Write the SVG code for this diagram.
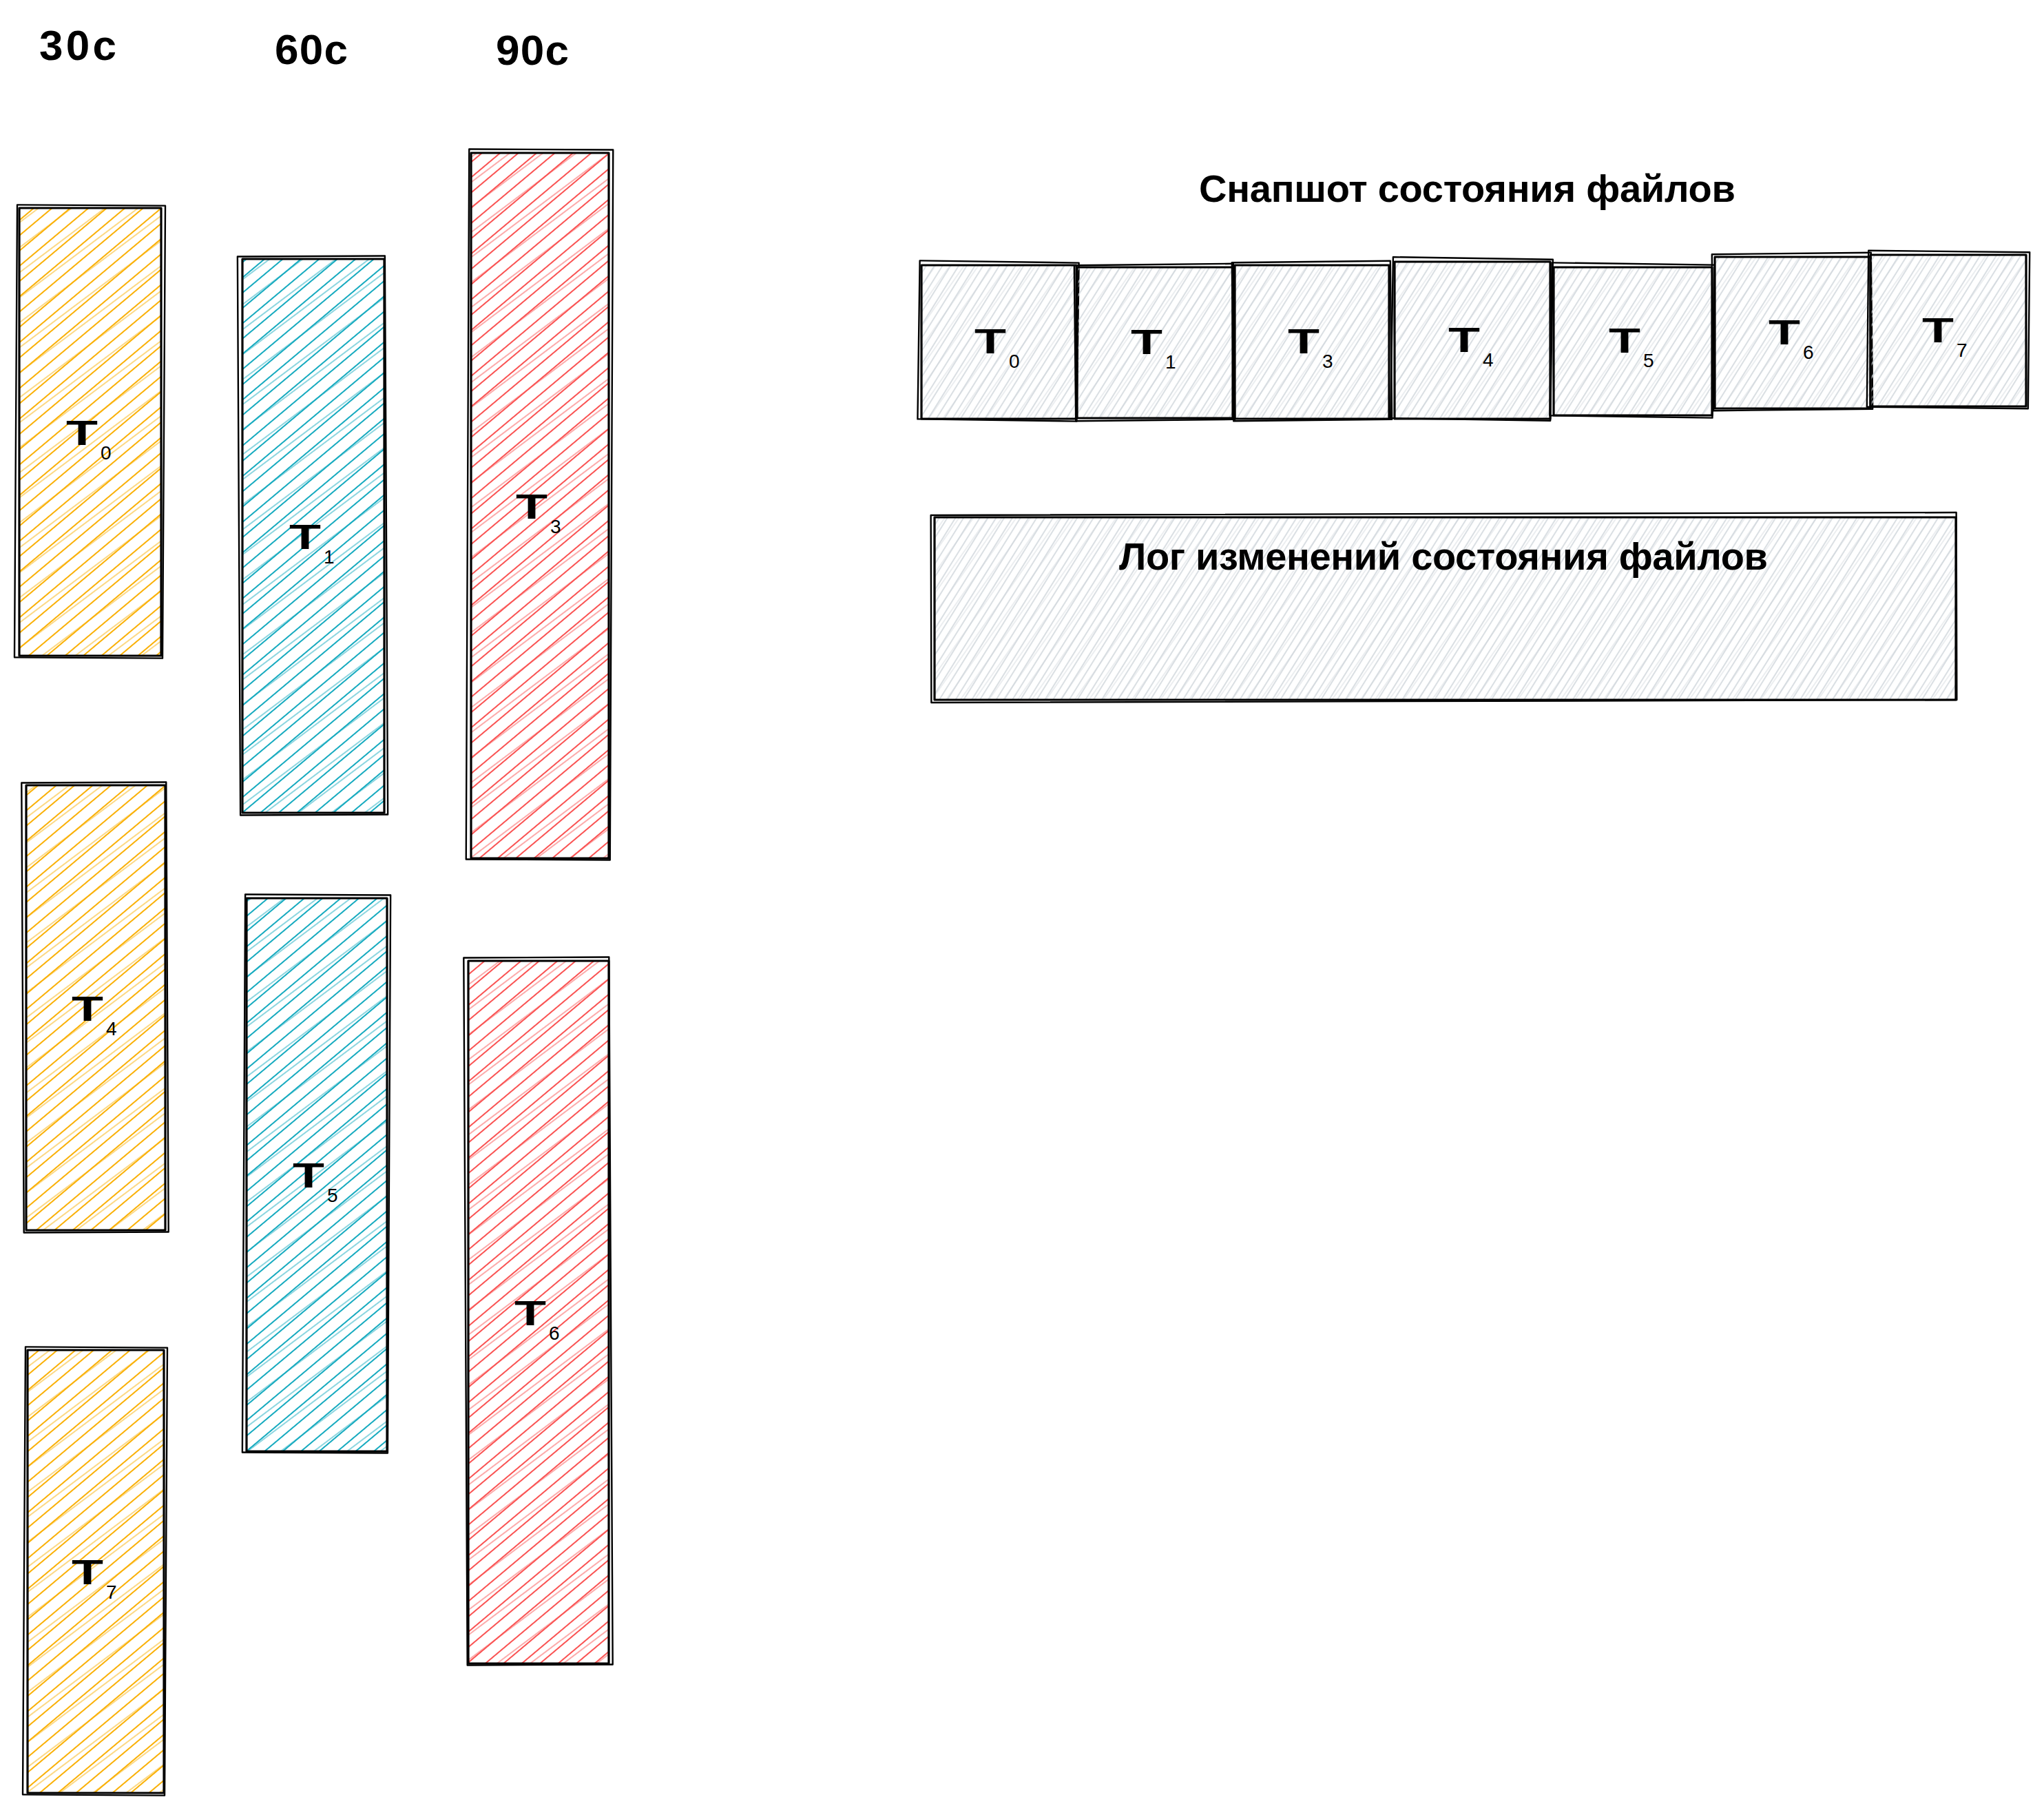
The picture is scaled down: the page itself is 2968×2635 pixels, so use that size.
<svg xmlns="http://www.w3.org/2000/svg" width="2968" height="2635" viewBox="0 0 2968 2635">
<defs>
<pattern id="y1" width="17" height="17" patternUnits="userSpaceOnUse" patternTransform="rotate(-40)"><line x1="0" y1="8" x2="17" y2="8" stroke="#fab005" stroke-width="2"/></pattern>
<pattern id="y2" width="29" height="29" patternUnits="userSpaceOnUse" patternTransform="rotate(-37)"><line x1="0" y1="14" x2="29" y2="14" stroke="#fab005" stroke-width="1.4"/></pattern>
<pattern id="c1" width="17" height="17" patternUnits="userSpaceOnUse" patternTransform="rotate(-40)"><line x1="0" y1="8" x2="17" y2="8" stroke="#15aabf" stroke-width="2"/></pattern>
<pattern id="c2" width="29" height="29" patternUnits="userSpaceOnUse" patternTransform="rotate(-37)"><line x1="0" y1="14" x2="29" y2="14" stroke="#15aabf" stroke-width="1.4"/></pattern>
<pattern id="r1" width="17" height="17" patternUnits="userSpaceOnUse" patternTransform="rotate(-40)"><line x1="0" y1="8" x2="17" y2="8" stroke="#fa5252" stroke-width="2"/></pattern>
<pattern id="r2" width="29" height="29" patternUnits="userSpaceOnUse" patternTransform="rotate(-37)"><line x1="0" y1="14" x2="29" y2="14" stroke="#fa5252" stroke-width="1.4"/></pattern>
<pattern id="g1" width="10" height="10" patternUnits="userSpaceOnUse" patternTransform="rotate(-58)"><line x1="0" y1="5" x2="10" y2="5" stroke="#ced4da" stroke-width="1.5"/></pattern>
<pattern id="g2" width="17" height="17" patternUnits="userSpaceOnUse" patternTransform="rotate(-55)"><line x1="0" y1="8" x2="17" y2="8" stroke="#ced4da" stroke-width="1"/></pattern>
</defs>
<style>
text{font-family:"Liberation Sans","DejaVu Sans",sans-serif;fill:#000;font-weight:bold}
.hd{font-size:62px}
.ti{font-size:56px}
.t{font-size:50px}
.s{font-size:28px;font-weight:normal}
.o1{fill:none;stroke:#000;stroke-width:3.2;stroke-linejoin:round}
.o2{fill:none;stroke:#000;stroke-width:2.4;stroke-linejoin:round}
.fy1{fill:url(#y1)}.fy2{fill:url(#y2);opacity:.7}
.fc1{fill:url(#c1)}.fc2{fill:url(#c2);opacity:.7}
.fr1{fill:url(#r1)}.fr2{fill:url(#r2);opacity:.7}
.fg1{fill:url(#g1)}.fg2{fill:url(#g2);opacity:.8}
</style>
<rect width="2968" height="2635" fill="#fff"/>

<g id="headers">
<text class="hd" x="57" y="87" textLength="112" lengthAdjust="spacing">30c</text>
<text class="hd" x="399" y="93" textLength="106" lengthAdjust="spacing">60c</text>
<text class="hd" x="720" y="94" textLength="106" lengthAdjust="spacing">90c</text>
</g>

<g id="col-T0">
<rect class="fy1" x="28" y="302" width="206" height="650"/><rect class="fy2" x="28" y="302" width="206" height="650"/>
<rect class="o1" x="28" y="302" width="206" height="650"/>
<rect class="o2" x="23" y="298" width="215" height="657" transform="rotate(0.35 131 627)"/>
<text class="t" x="96" y="646" textLength="46" lengthAdjust="spacingAndGlyphs">T</text><text class="s" x="146" y="667">0</text>
</g>
<g id="col-T4">
<rect class="fy1" x="38" y="1140" width="202" height="646"/><rect class="fy2" x="38" y="1140" width="202" height="646"/>
<rect class="o1" x="38" y="1140" width="202" height="646"/>
<rect class="o2" x="33" y="1136" width="210" height="653" transform="rotate(-0.3 139 1463)"/>
<text class="t" x="104" y="1482" textLength="46" lengthAdjust="spacingAndGlyphs">T</text><text class="s" x="154" y="1503">4</text>
</g>
<g id="col-T7">
<rect class="fy1" x="40" y="1960" width="198" height="643"/><rect class="fy2" x="40" y="1960" width="198" height="643"/>
<rect class="o1" x="40" y="1960" width="198" height="643"/>
<rect class="o2" x="35" y="1956" width="206" height="650" transform="rotate(0.35 139 2281)"/>
<text class="t" x="104" y="2300" textLength="46" lengthAdjust="spacingAndGlyphs">T</text><text class="s" x="154" y="2321">7</text>
</g>
<g id="col-T1">
<rect class="fc1" x="352" y="376" width="206" height="804"/><rect class="fc2" x="352" y="376" width="206" height="804"/>
<rect class="o1" x="352" y="376" width="206" height="804"/>
<rect class="o2" x="347" y="372" width="214" height="811" transform="rotate(-0.3 455 778)"/>
<text class="t" x="420" y="797" textLength="46" lengthAdjust="spacingAndGlyphs">T</text><text class="s" x="470" y="818">1</text>
</g>
<g id="col-T5">
<rect class="fc1" x="358" y="1304" width="204" height="803"/><rect class="fc2" x="358" y="1304" width="204" height="803"/>
<rect class="o1" x="358" y="1304" width="204" height="803"/>
<rect class="o2" x="354" y="1299" width="211" height="810" transform="rotate(0.3 460 1705)"/>
<text class="t" x="425" y="1724" textLength="46" lengthAdjust="spacingAndGlyphs">T</text><text class="s" x="475" y="1745">5</text>
</g>
<g id="col-T3">
<rect class="fr1" x="684" y="222" width="200" height="1024"/><rect class="fr2" x="684" y="222" width="200" height="1024"/>
<rect class="o1" x="684" y="222" width="200" height="1024"/>
<rect class="o2" x="679" y="217" width="209" height="1031" transform="rotate(0.25 784 734)"/>
<text class="t" x="749" y="753" textLength="46" lengthAdjust="spacingAndGlyphs">T</text><text class="s" x="799" y="774">3</text>
</g>
<g id="col-T6">
<rect class="fr1" x="680" y="1395" width="204" height="1020"/><rect class="fr2" x="680" y="1395" width="204" height="1020"/>
<rect class="o1" x="680" y="1395" width="204" height="1020"/>
<rect class="o2" x="676" y="1390" width="211" height="1027" transform="rotate(-0.3 782 1905)"/>
<text class="t" x="747" y="1924" textLength="46" lengthAdjust="spacingAndGlyphs">T</text><text class="s" x="797" y="1945">6</text>
</g>

<g id="snapshot-title">
<text class="ti" x="1741" y="293" textLength="779" lengthAdjust="spacing">Снапшот состояния файлов</text>
</g>

<g id="snap-T0">
<rect class="fg1" x="1338" y="385" width="225" height="223"/><rect class="fg2" x="1338" y="385" width="225" height="223"/>
<rect class="o1" x="1338" y="385" width="225" height="223"/>
<rect class="o2" x="1334" y="380" width="231" height="230" transform="rotate(0.8 1450 496)"/>
<text class="t" x="1415" y="513" textLength="46" lengthAdjust="spacingAndGlyphs">T</text><text class="s" x="1465" y="534">0</text>
</g>
<g id="snap-T1">
<rect class="fg1" x="1564" y="388" width="226" height="219"/><rect class="fg2" x="1564" y="388" width="226" height="219"/>
<rect class="o1" x="1564" y="388" width="226" height="219"/>
<rect class="o2" x="1561" y="384" width="231" height="226" transform="rotate(-0.6 1677 497)"/>
<text class="t" x="1642" y="514" textLength="46" lengthAdjust="spacingAndGlyphs">T</text><text class="s" x="1692" y="535">1</text>
</g>
<g id="snap-T3">
<rect class="fg1" x="1793" y="385" width="224" height="223"/><rect class="fg2" x="1793" y="385" width="224" height="223"/>
<rect class="o1" x="1793" y="385" width="224" height="223"/>
<rect class="o2" x="1790" y="380" width="230" height="230" transform="rotate(-0.6 1905 496)"/>
<text class="t" x="1870" y="513" textLength="46" lengthAdjust="spacingAndGlyphs">T</text><text class="s" x="1920" y="534">3</text>
</g>
<g id="snap-T4">
<rect class="fg1" x="2025" y="380" width="226" height="228"/><rect class="fg2" x="2025" y="380" width="226" height="228"/>
<rect class="o1" x="2025" y="380" width="226" height="228"/>
<rect class="o2" x="2021" y="375" width="232" height="234" transform="rotate(0.9 2138 494)"/>
<text class="t" x="2103" y="511" textLength="46" lengthAdjust="spacingAndGlyphs">T</text><text class="s" x="2153" y="532">4</text>
</g>
<g id="snap-T5">
<rect class="fg1" x="2256" y="388" width="230" height="215"/><rect class="fg2" x="2256" y="388" width="230" height="215"/>
<rect class="o1" x="2256" y="388" width="230" height="215"/>
<rect class="o2" x="2252" y="383" width="236" height="222" transform="rotate(0.8 2371 495)"/>
<text class="t" x="2336" y="512" textLength="46" lengthAdjust="spacingAndGlyphs">T</text><text class="s" x="2386" y="533">5</text>
</g>
<g id="snap-T6">
<rect class="fg1" x="2490" y="373" width="226" height="220"/><rect class="fg2" x="2490" y="373" width="226" height="220"/>
<rect class="o1" x="2490" y="373" width="226" height="220"/>
<rect class="o2" x="2487" y="368" width="231" height="227" transform="rotate(-0.6 2603 483)"/>
<text class="t" x="2568" y="500" textLength="46" lengthAdjust="spacingAndGlyphs">T</text><text class="s" x="2618" y="521">6</text>
</g>
<g id="snap-T7">
<rect class="fg1" x="2716" y="370" width="226" height="220"/><rect class="fg2" x="2716" y="370" width="226" height="220"/>
<rect class="o1" x="2716" y="370" width="226" height="220"/>
<rect class="o2" x="2712" y="365" width="234" height="227" transform="rotate(0.6 2828 480)"/>
<text class="t" x="2791" y="497" textLength="46" lengthAdjust="spacingAndGlyphs">T</text><text class="s" x="2841" y="518">7</text>
</g>

<g id="log">
<rect class="fg1" x="1357" y="751" width="1483" height="265"/><rect class="fg2" x="1357" y="751" width="1483" height="265"/>
<rect class="o1" x="1357" y="751" width="1483" height="265"/>
<rect class="o2" x="1352" y="746" width="1489" height="272" transform="rotate(-0.15 2098 884)"/>
<text class="ti" x="1625" y="827" textLength="942" lengthAdjust="spacing">Лог изменений состояния файлов</text>
</g>
<g id="connectors"/>
</svg>
